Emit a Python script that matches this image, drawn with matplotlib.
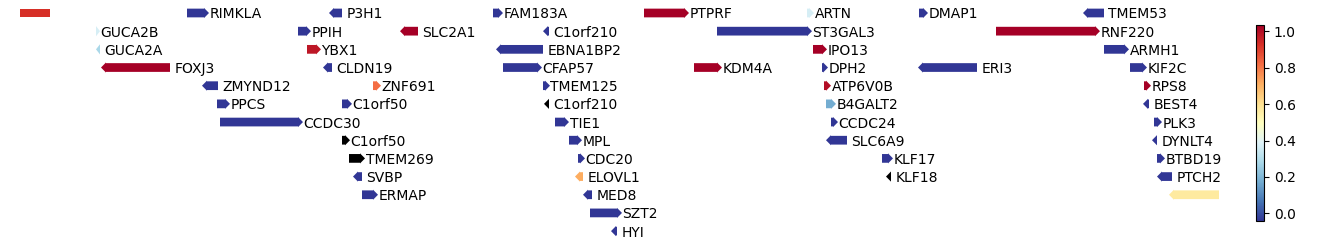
import numpy as np
import matplotlib
matplotlib.use('Agg')
import matplotlib.pyplot as plt
from matplotlib.patches import FancyArrow, Rectangle
from matplotlib.colors import Normalize
from matplotlib.cm import ScalarMappable

# gene track (x in screen-like units, row = stacking level)
names = ["", "RIMKLA", "P3H1", "FAM183A", "PTPRF", "ARTN", "DMAP1", "TMEM53",
         "GUCA2B", "PPIH", "SLC2A1", "C1orf210", "ST3GAL3", "RNF220",
         "GUCA2A", "YBX1", "EBNA1BP2", "IPO13", "ARMH1",
         "FOXJ3", "CLDN19", "CFAP57", "KDM4A", "DPH2", "ERI3", "KIF2C",
         "ZMYND12", "ZNF691", "TMEM125", "ATP6V0B", "RPS8",
         "PPCS", "C1orf50", "C1orf210", "B4GALT2", "BEST4",
         "CCDC30", "TIE1", "CCDC24", "PLK3",
         "C1orf50", "MPL", "SLC6A9", "DYNLT4",
         "TMEM269", "CDC20", "KLF17", "BTBD19",
         "SVBP", "ELOVL1", "KLF18", "PTCH2",
         "ERMAP", "MED8", "",
         "SZT2",
         "HYI"]
starts = [20, 187, 329, 493, 644, 807, 919, 1083,
          96, 298, 400, 543, 717, 996,
          96, 307, 496, 813, 1104,
          101, 323, 503, 694, 822, 918, 1130,
          202, 373, 543, 824, 1144,
          217, 342, 544, 826, 1143,
          220, 555, 831, 1154,
          342, 569, 826, 1152,
          349, 578, 882, 1157,
          353, 575, 886, 1157,
          362, 583, 1169,
          590,
          611]
ends = [50, 209, 342, 503, 689, 814, 928, 1104,
        100, 311, 418, 549, 812, 1100,
        100, 321, 543, 827, 1129,
        170, 332, 542, 722, 828, 977, 1147,
        218, 381, 550, 831, 1151,
        230, 352, 549, 836, 1149,
        303, 569, 838, 1162,
        350, 582, 847, 1157,
        365, 585, 893, 1165,
        362, 583, 891, 1172,
        378, 592, 1219,
        622,
        617]
strands = [0, 1, -1, 1, 1, 1, 1, -1,
           1, 1, -1, -1, 1, 1,
           -1, 1, -1, 1, 1,
           -1, -1, 1, 1, 1, -1, 1,
           -1, 1, 1, 1, 1,
           1, 1, -1, 1, -1,
           1, 1, 1, 1,
           1, 1, -1, -1,
           1, 1, 1, 1,
           -1, -1, -1, -1,
           1, -1, -1,
           1,
           -1]
rows = [0] * 8 + [1] * 6 + [2] * 5 + [3] * 7 + [4] * 5 + [5] * 5 + [6] * 4 + \
       [7] * 4 + [8] * 4 + [9] * 4 + [10] * 3 + [11] + [12]
nan = np.nan
scores = [0.9, 0, 0, 0, 1.0, 0.38, 0, 0,
          0.38, 0, 1.0, 0, 0, 1.0,
          0.3, 0.95, 0, 1.0, 0,
          1.0, 0, 0, 1.0, 0, 0, 0,
          0, 0.8, 0, 0.97, 1.0,
          0, 0, nan, 0.2, 0,
          0, 0, 0, 0,
          nan, 0, 0, 0,
          nan, 0, 0, 0,
          0, 0.7, nan, 0,
          0, 0, 0.57,
          0,
          0]

cmap = plt.get_cmap('RdYlBu_r')

fig = plt.figure(figsize=(13.38, 2.46), dpi=100)
ax = fig.add_axes([20 / 1338, 0, 1199 / 1338, 1])
ax.set_xlim(20, 1219)
ax.set_ylim(12.82, -0.715)
ax.axis('off')

body = 0.48
head = 0.56
for name, s, e, st, r, sc in zip(names, starts, ends, strands, rows, scores):
    color = 'k' if np.isnan(sc) else cmap(sc)
    length = e - s
    if st == 0:
        ax.add_patch(Rectangle((s, r - body / 2), length, body, color=color, lw=0))
    else:
        hl = min(5, length)
        x0 = s if st == 1 else e
        ax.add_patch(FancyArrow(x0, r, st * length, 0, width=body, head_width=head,
                                head_length=hl, length_includes_head=True,
                                color=color, lw=0))
    if name:
        off = 0.5 if st == 1 else 4.5
        ax.text(e + off, r, name, fontsize=10, ha='left', va='center_baseline')

cax = fig.add_axes([1256 / 1338, 25 / 246, 8 / 1338, 196 / 246])
sm = ScalarMappable(norm=Normalize(-0.042, 1.035), cmap=cmap)
cb = fig.colorbar(sm, cax=cax)
cb.set_ticks([0.0, 0.2, 0.4, 0.6, 0.8, 1.0])

fig.savefig('out.png', dpi=100)
